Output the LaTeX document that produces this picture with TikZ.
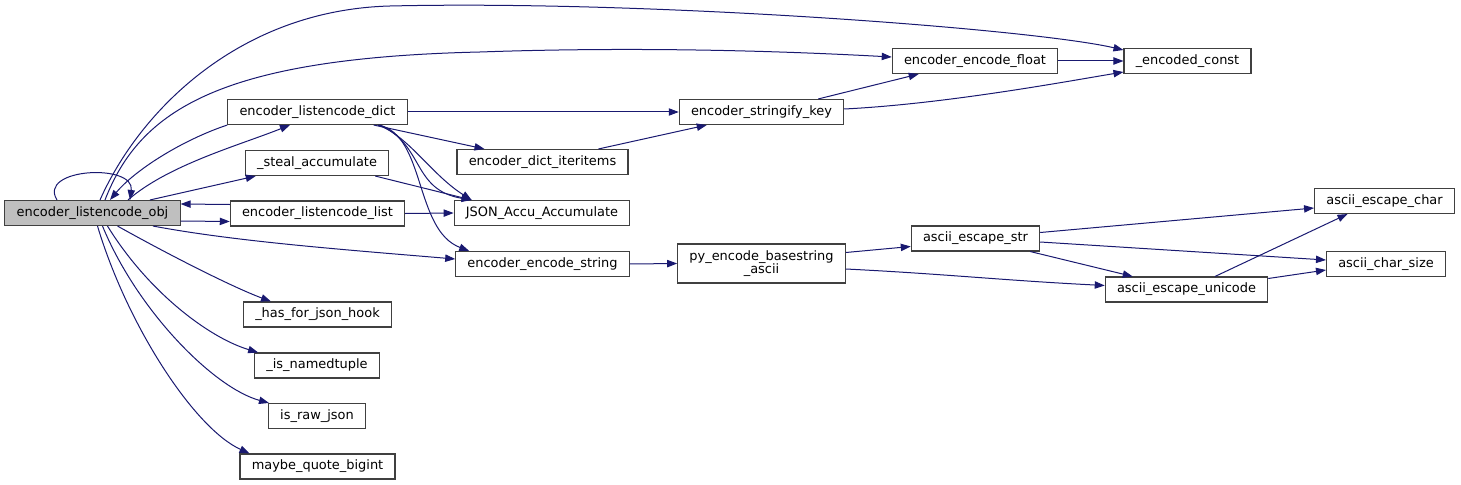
\documentclass[tikz,border=0pt]{standalone}
\usepackage{fontspec}
\setmainfont{DejaVu Sans}
\usetikzlibrary{arrows.meta, calc}
\definecolor{Edge}{HTML}{191970}
\definecolor{Frame}{HTML}{404040}
\definecolor{Focus}{HTML}{BFBFBF}

\begin{document}
\begin{tikzpicture}[x=0.75pt, y=-0.75pt,
  fnbox/.style={draw=Frame, line width=0.8pt, fill=white, inner xsep=8.8pt,
    inner ysep=1pt, minimum height=18.75pt, align=center,
    font=\fontsize{9.7}{10.3}\selectfont},
  call/.style={draw=Edge, line width=0.75pt,
    -{Triangle[length=7.5pt, width=5.5pt]}}]
  \useasboundingbox (0,0) rectangle (1461,485);

  % functions
  \node[fnbox, fill=Focus] (obj) at (92.5,213) {encoder\_listencode\_obj};
  \node[fnbox] (dict) at (317.5,112) {encoder\_listencode\_dict};
  \node[fnbox] (steal) at (317,163) {\_steal\_accumulate};
  \node[fnbox] (list) at (317.5,213.5) {encoder\_listencode\_list};
  \node[fnbox] (hook) at (317.5,314.5) {\_has\_for\_json\_hook};
  \node[fnbox] (namedtuple) at (317,365.5) {\_is\_namedtuple};
  \node[fnbox] (rawjson) at (317,416) {is\_raw\_json};
  \node[fnbox] (bigint) at (317.5,466.5) {maybe\_quote\_bigint};
  \node[fnbox] (iteritems) at (542.5,162) {encoder\_dict\_iteritems};
  \node[fnbox] (accu) at (542,213) {JSON\_Accu\_Accumulate};
  \node[fnbox] (encstr) at (542.5,264) {encoder\_encode\_string};
  \node[fnbox] (strkey) at (761.5,112) {encoder\_stringify\_key};
  \node[fnbox, minimum height=29.25pt] (pyenc) at (761.5,263.5)
    {py\_encode\_basestring\\\_ascii};
  \node[fnbox] (encfloat) at (975,61) {encoder\_encode\_float};
  \node[fnbox] (encconst) at (1187.5,61) {\_encoded\_const};
  \node[fnbox] (escstr) at (975.5,238.5) {ascii\_escape\_str};
  \node[fnbox] (escuni) at (1186.5,289.5) {ascii\_escape\_unicode};
  \node[fnbox] (escchar) at (1384.5,201) {ascii\_escape\_char};
  \node[fnbox] (charsize) at (1386,264) {ascii\_char\_size};

  % calls out of encoder_listencode_obj
  \draw[call] ($(obj.north)+(-35.5,0)$) .. controls +(-20,-32) and +(5,-37)
    .. ($(obj.north)+(37.5,0)$);
  \draw[call] ($(obj.north)+(35.5,0)$) .. controls +(40,-35) and +(-50,20)
    .. ($(dict.south)+(-27.5,0)$);
  \draw[call] ($(obj.north)+(7.5,0)$) .. controls (140,110) and (240,10)
    .. (390,6) .. controls (650,0) and (1033,29) .. ($(encconst.west)+(0,-11)$);
  \draw[call] ($(obj.north)+(12.5,0)$) .. controls (140,110) and (220,58)
    .. (480,52) .. controls (650,46) and (800,52) .. ($(encfloat.west)+(0,-4)$);
  \draw[call] ($(obj.north)+(57.5,0)$) -- ($(steal.south west)+(11,0)$);
  \draw[call] ($(obj.east)+(0,8)$) -- ($(list.west)+(0,8)$);
  \draw[call] ($(obj.south)+(60.5,0)$) .. controls +(80,15) and +(-120,-10)
    .. ($(encstr.west)+(0,-5)$);
  \draw[call] ($(obj.south)+(25,0)$) .. controls +(50,28) and +(-40,-15)
    .. ($(hook.north west)+(28,0)$);
  \draw[call] ($(obj.south)+(15,0)$) .. controls +(40,65) and +(-50,-15)
    .. ($(namedtuple.north west)+(4,0)$);
  \draw[call] ($(obj.south)+(10,0)$) .. controls +(35,85) and +(-55,-15)
    .. ($(rawjson.north west)+(1,0)$);
  \draw[call] ($(obj.south)+(5,0)$) .. controls +(30,100) and +(-55,-25)
    .. ($(bigint.north west)+(10,0)$);

  % calls back into it
  \draw[call] (dict.south west) .. controls +(-45,15) and +(25,-30)
    .. ($(obj.north)+(17.5,0)$);
  \draw[call] ($(list.west)+(0,-9)$) -- ($(obj.east)+(0,-9)$);

  % second column
  \draw[call] (dict.east) -- (strkey.west);
  \draw[call] ($(dict.south east)+(-34,0)$) -- ($(iteritems.north west)+(28,0)$);
  \draw[call] ($(dict.south east)+(-30,0)$) .. controls +(30,10) and +(-40,-25)
    .. ($(accu.north west)+(18,0)$);
  \draw[call] ($(dict.south east)+(-28,0)$) .. controls +(45,20) and +(-60,-10)
    .. ($(accu.north west)+(18,0)$);
  \draw[call] ($(dict.south east)+(-29,0)$) .. controls +(47,10) and +(-55,-21)
    .. ($(encstr.north west)+(14,0)$);
  \draw[call] ($(steal.south east)+(-14,0)$) -- ($(accu.north west)+(18,0)$);
  \draw[call] (list.east) -- (accu.west);

  % third column and beyond
  \draw[call] ($(iteritems.north east)+(-30,0)$) -- ($(strkey.south west)+(28,0)$);
  \draw[call] ($(strkey.north east)+(-26,0)$) -- ($(encfloat.south west)+(27,0)$);
  \draw[call] ($(strkey.east)+(0,-3)$) .. controls +(100,-5) and +(-60,10)
    .. ($(encconst.west)+(0,11)$);
  \draw[call] (encfloat.east) -- (encconst.west);
  \draw[call] (encstr.east) -- (pyenc.west);
  \draw[call] ($(pyenc.east)+(0,-11)$) -- ($(escstr.west)+(0,8)$);
  \draw[call] ($(pyenc.east)+(0,5.5)$) .. controls +(100,5) and +(-100,-5)
    .. ($(escuni.west)+(0,-4)$);
  \draw[call] ($(escstr.east)+(0,-6)$) -- ($(escchar.west)+(0,7)$);
  \draw[call] ($(escstr.east)+(0,3.5)$) -- ($(charsize.west)+(0,-4)$);
  \draw[call] ($(escstr.south east)+(-10,0)$) -- ($(escuni.north west)+(28,0)$);
  \draw[call] ($(escuni.north)+(28.5,0)$) -- ($(escchar.south)+(-37,0)$);
  \draw[call] ($(escuni.east)+(0,-11)$) -- ($(charsize.west)+(0,6)$);
\end{tikzpicture}
\end{document}
